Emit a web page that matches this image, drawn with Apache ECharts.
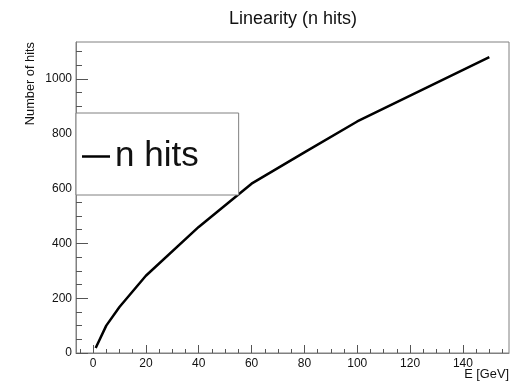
<!DOCTYPE html>
<html><head><meta charset="utf-8">
<script src="https://cdn.jsdelivr.net/npm/echarts@6/dist/echarts.min.js"></script>
<style>html,body{margin:0;padding:0;background:#fff}#c{width:521px;height:387px}</style>
</head><body><div id="c"></div>
<script>
// ---- data ----
const energies = [1, 5, 10, 20, 40, 60, 80, 100, 150];
const nHits = [18, 100, 168, 282, 460, 618, 732, 845, 1080];
const seriesName = 'n hits';
const titleText = 'Linearity (n hits)';
const xTitle = 'E [GeV]';
const yTitle = 'Number of hits';
const xTickValues = [0, 20, 40, 60, 80, 100, 120, 140];
const yTickValues = [0, 200, 400, 600, 800, 1000];
const xRange = [-6.45, 157.45];
const yRange = [0, 1135];

const xMinor = []; for (let v = -5; v < xRange[1]; v += 5) if (v % 20 !== 0) xMinor.push(v);
const yMinor = []; for (let v = 50; v < yRange[1]; v += 50) if (v % 200 !== 0) yMinor.push(v);

const FONT = 'Liberation Sans, Arial, sans-serif';
const frameColor = '#808080';
const tickColor = '#555';

const chart = echarts.init(document.getElementById('c'), null, {renderer: 'canvas'});
const baseX = {
  type: 'value', min: xRange[0], max: xRange[1], position: 'bottom',
  splitLine: {show: false}, minorTick: {show: false}
};
const baseY = {
  type: 'value', min: yRange[0], max: yRange[1], position: 'left',
  splitLine: {show: false}, minorTick: {show: false}
};
chart.setOption({
  animation: false,
  backgroundColor: '#fff',
  title: {
    text: titleText, left: 224, top: 5,
    textStyle: {fontFamily: FONT, fontSize: 18, fontWeight: 'normal', color: '#111'}
  },
  grid: {left: 76, right: 12, top: 42, bottom: 34, show: true, borderColor: frameColor, borderWidth: 1, backgroundColor: 'transparent', containLabel: false, outerBoundsMode: 'none'},
  legend: {
    data: [seriesName], left: 76, top: 113, icon: 'rect', itemWidth: 28, itemHeight: 2.5,
    padding: [26, 40, 21, 6], borderColor: frameColor, borderWidth: 1, borderRadius: 0,
    backgroundColor: '#fff',
    textStyle: {fontFamily: FONT, fontSize: 35, color: '#111'}
  },
  xAxis: [
    Object.assign({}, baseX, {
      axisLine: {show: true, onZero: false, lineStyle: {color: frameColor, width: 1}},
      axisTick: {show: true, inside: true, length: 8, customValues: xTickValues, lineStyle: {color: tickColor}},
      axisLabel: {show: true, customValues: xTickValues, margin: 5, fontFamily: FONT, fontSize: 12, color: '#111', formatter: v => String(v)}
    }),
    Object.assign({}, baseX, {
      axisLine: {show: false, onZero: false},
      axisTick: {show: true, inside: true, length: 4, customValues: xMinor, lineStyle: {color: tickColor}},
      axisLabel: {show: false}
    })
  ],
  yAxis: [
    Object.assign({}, baseY, {
      axisLine: {show: true, onZero: false, lineStyle: {color: frameColor, width: 1}},
      axisTick: {show: true, inside: true, length: 12, customValues: yTickValues, lineStyle: {color: tickColor}},
      axisLabel: {show: true, customValues: yTickValues, margin: 4, fontFamily: FONT, fontSize: 12, color: '#111', formatter: v => String(v)}
    }),
    Object.assign({}, baseY, {
      axisLine: {show: false, onZero: false},
      axisTick: {show: true, inside: true, length: 6, customValues: yMinor, lineStyle: {color: tickColor}},
      axisLabel: {show: false}
    })
  ],
  graphic: [{
    type: 'text', x: 30, y: 42, rotation: Math.PI / 2,
    style: {text: yTitle, align: 'right', verticalAlign: 'middle', fontFamily: FONT, fontSize: 12.8, fill: '#111'}
  }, {
    type: 'text', x: 509, y: 374,
    style: {text: xTitle, align: 'right', verticalAlign: 'middle', fontFamily: FONT, fontSize: 12.8, fill: '#111'}
  }],
  series: [{
    name: seriesName, type: 'line', xAxisIndex: 0, yAxisIndex: 0,
    data: energies.map((e, i) => [e, nHits[i]]),
    showSymbol: false, symbol: 'none', color: '#000',
    lineStyle: {color: '#000', width: 2.5}, z: 1
  }]
});
</script></body></html>
